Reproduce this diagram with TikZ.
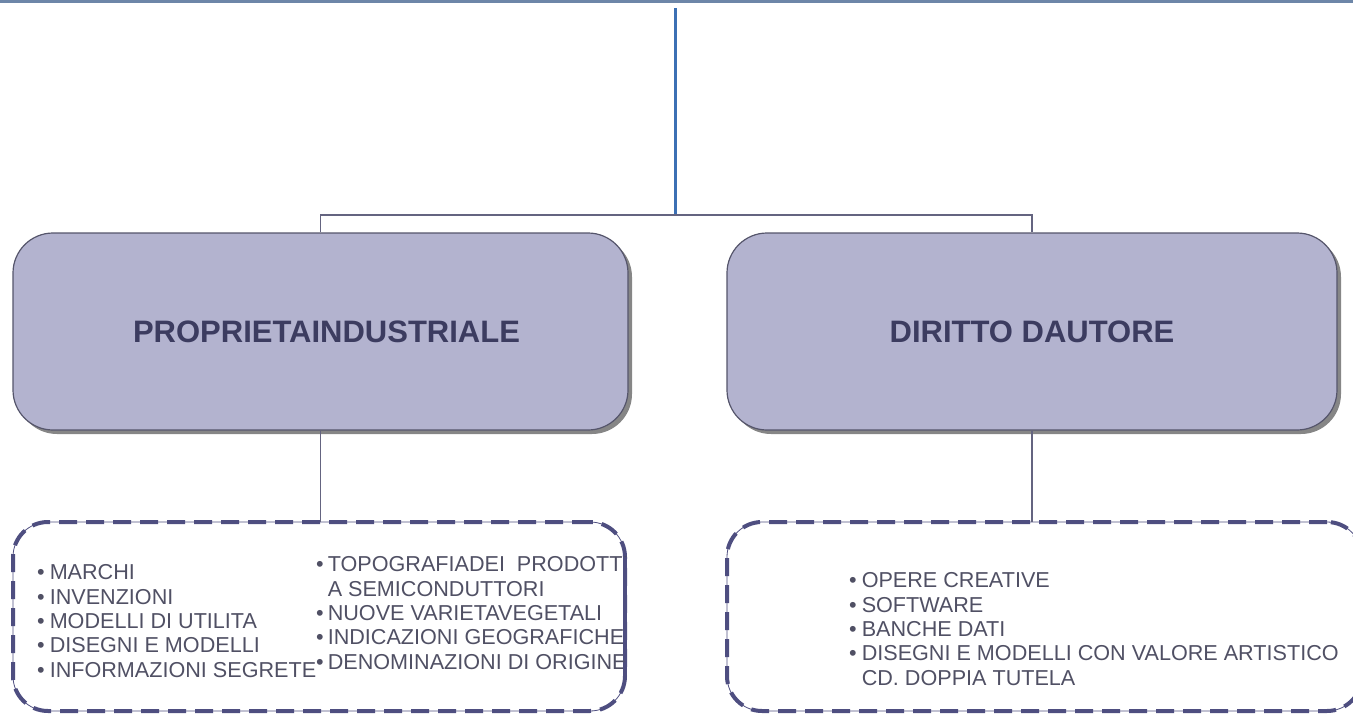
\documentclass[tikz,border=0pt]{standalone}
\usepackage{fontspec}
\setmainfont{Liberation Sans}
\usepackage{xcolor}
\usepackage{tikz}
\usetikzlibrary{shadows}
\definecolor{ipfill}{RGB}{179, 179, 207}
\definecolor{ipedge}{RGB}{85, 85, 107}
\definecolor{iptitle}{RGB}{60, 60, 96}
\definecolor{iptext}{RGB}{80, 80, 100}
\definecolor{ipdash}{RGB}{78, 78, 128}
\definecolor{iplink}{RGB}{100, 100, 128}
\definecolor{ipblue}{RGB}{60, 112, 180}
\definecolor{iptop}{RGB}{109, 134, 168}

\begin{document}
\begin{tikzpicture}[x=1pt, y=-1pt,
  bigbox/.style={draw=ipedge, line width=1.2pt, fill=ipfill, rounded corners=40pt,
    minimum height=197pt, inner sep=0pt, text=iptitle,
    font=\fontsize{31}{36}\selectfont\bfseries,
    drop shadow={shadow xshift=4pt, shadow yshift=-4pt, fill=gray!95, opacity=1}},
  listbox/.style={draw=ipdash, line width=0.8pt, rounded corners=35pt,
    minimum height=189pt, inner sep=0pt,
    postaction={draw=ipdash, line width=4pt, dash pattern=on 18pt off 9pt}},
  items/.style={align=left, text=iptext, inner sep=0pt,
    font=\fontsize{21.6}{24.3}\selectfont},
  link/.style={draw=iplink, line width=1.6pt}]
\useasboundingbox (0,0) rectangle (1353,715);

% top rule and incoming line
\draw[iptop, line width=2.5pt] (0,1.5) -- (1353,1.5);
\coordinate (src) at (675,8);
\coordinate (fork) at (675,215);

% the two branches
\node[bigbox, minimum width=615pt] (pi) at (320.5,331.5) {\hspace*{12pt}PROPRIETAINDUSTRIALE};
\node[bigbox, minimum width=610pt] (da) at (1032,331.5) {DIRITTO DAUTORE};

% dashed lists
\node[listbox, minimum width=612pt] (pilist) at (319,616.5) {};
\node[listbox, minimum width=635pt] (dalist) at (1044.5,616.5) {};

\node[items, anchor=west] (picol1) at (37,621) {%
  \textbullet\hspace{5pt}MARCHI\\
  \textbullet\hspace{5pt}INVENZIONI\\
  \textbullet\hspace{5pt}MODELLI DI UTILITA\\
  \textbullet\hspace{5pt}DISEGNI E MODELLI\\
  \textbullet\hspace{5pt}INFORMAZIONI SEGRETE};
\node[items, anchor=west] (picol2) at (316,613) {%
  \textbullet\hspace{4pt}TOPOGRAFIADEI\ \ PRODOTTI\\
  \phantom{\textbullet}\hspace{4pt}A SEMICONDUTTORI\\
  \textbullet\hspace{4pt}NUOVE VARIETAVEGETALI\\
  \textbullet\hspace{4pt}INDICAZIONI GEOGRAFICHE\\
  \textbullet\hspace{4pt}DENOMINAZIONI DI ORIGINE};
\node[items, anchor=west] (dacol) at (849,629) {%
  \textbullet\hspace{5pt}OPERE CREATIVE\\
  \textbullet\hspace{5pt}SOFTWARE\\
  \textbullet\hspace{5pt}BANCHE DATI\\
  \textbullet\hspace{5pt}DISEGNI E MODELLI CON VALORE ARTISTICO\\
  \phantom{\textbullet}\hspace{5pt}CD. DOPPIA TUTELA};

% redraw the right border of the left list over its text
\draw[ipdash, line width=4pt, dash pattern=on 18pt off 9pt]
  ([yshift=-35pt]pilist.north east) -- ([yshift=35pt]pilist.south east);

% connectors
\draw[ipblue, line width=3pt] (src) -- (fork);
\draw[link] (pi.north) |- (fork) -| (da.north);
\draw[link] (pi.south) -- (pi.south |- pilist.north);
\draw[link] (da.south) -- (da.south |- dalist.north);
\end{tikzpicture}
\end{document}
